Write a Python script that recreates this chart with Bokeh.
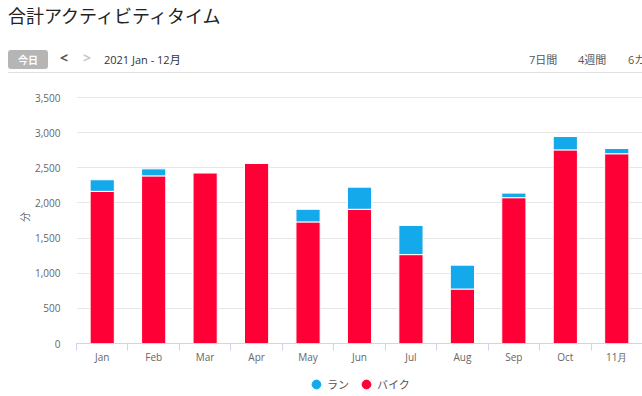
from bokeh.plotting import figure
from bokeh.layouts import column
from bokeh.models import (Range1d, LinearAxis, FixedTicker, NumeralTickFormatter,
                          Legend, LegendItem, ColumnDataSource, Div)
from bokeh.embed import file_html
from bokeh.resources import INLINE

# ---- data ----
months = ["Jan", "Feb", "Mar", "Apr", "May", "Jun", "Jul", "Aug", "Sep", "Oct", "11月"]
bike = [2165, 2385, 2430, 2565, 1730, 1910, 1265, 775, 2075, 2755, 2700]
run = [165, 100, 0, 0, 180, 315, 415, 340, 65, 190, 75]
series_names = ["ラン", "バイク"]
y_ticks = [0, 500, 1000, 1500, 2000, 2500, 3000, 3500]
title_text = "合計アクティビティタイム"
today_text = "今日"
range_text = "2021 Jan - 12月"
tabs = ["7日間", "4週間", "6カ月"]

C_BIKE = "#ff0036"
C_RUN = "#13a9eb"
LAT = "Open Sans"
JP = "Noto Sans CJK JP"
W = 642
H_HEAD = 80
H_MAIN = 288
H_FOOT = 396 - H_HEAD - H_MAIN

# ---------------- header (HTML) ----------------
def span(text, left, top, size, color, extra=""):
    return (f'<span style="position:absolute;left:{left}px;top:{top}px;'
            f'font-size:{size}px;line-height:{size + 4}px;color:{color};'
            f'white-space:nowrap;{extra}">{text}</span>')

tab_html = "".join(span(t, x, 52, 11, "#555555", f"font-family:'{LAT}','{JP}';")
                   for t, x in zip(tabs, [529, 578, 628]))
head_html = (
    f'<div style="position:relative;width:{W}px;height:{H_HEAD}px;overflow:hidden;'
    f'font-family:\'{LAT}\',\'{JP}\';">'
    + span(title_text, 8, 3, 18, "#222222", f"font-family:'{JP}';line-height:24px;")
    + f'<div style="position:absolute;left:8px;top:50px;width:40px;height:19px;'
      f'background:#b5b5b5;border-radius:3px;"></div>'
    + span(today_text, 18, 52, 10, "#ffffff",
           f"font-family:'{JP}';font-weight:bold;line-height:15px;")
    + span("&lt;", 60, 50, 14, "#555555", "font-weight:bold;line-height:16px;")
    + span("&gt;", 83, 50, 14, "#c8c8c8", "font-weight:bold;line-height:16px;")
    + span(range_text, 104, 52, 11, "#333333")
    + tab_html
    + f'<div style="position:absolute;left:8px;top:72px;width:{W - 8}px;height:1px;'
      f'background:#e0e0e0;"></div>'
    + '</div>'
)
head = Div(text=head_html, width=W, height=H_HEAD, margin=0)

# ---------------- main chart ----------------
idx = list(range(len(months)))
src = ColumnDataSource(dict(x=idx, bike=bike, run=run))

p = figure(width=W, height=H_MAIN, output_backend="svg", toolbar_location=None,
           x_range=Range1d(-0.5, len(months) - 0.5), y_range=Range1d(0, 3600),
           x_axis_type=None, min_border_left=76, min_border_right=0,
           min_border_top=10, min_border_bottom=25)
p.outline_line_color = None
p.xgrid.visible = False
p.ygrid.ticker = FixedTicker(ticks=y_ticks)
p.ygrid.grid_line_color = "#e6e6e6"

ya = p.yaxis[0]
ya.ticker = FixedTicker(ticks=y_ticks)
ya.formatter = NumeralTickFormatter(format="0,0")
ya.axis_line_color = None
ya.major_tick_line_color = None
ya.minor_tick_line_color = None
ya.major_label_standoff = 10
ya.major_label_text_font = LAT
ya.major_label_text_font_size = "10px"
ya.major_label_text_color = "#666666"
ya.axis_label = "分"
ya.axis_label_standoff = 0
ya.axis_label_text_font = JP
ya.axis_label_text_font_style = "normal"
ya.axis_label_text_font_size = "10px"
ya.axis_label_text_color = "#666666"

xa = LinearAxis(ticker=FixedTicker(ticks=idx,
                                   minor_ticks=[i - 0.5 for i in range(len(months) + 1)]),
                major_label_overrides={i: m for i, m in enumerate(months)},
                axis_line_color="#ccd6eb", major_tick_line_color=None,
                major_tick_out=0, major_tick_in=0,
                minor_tick_line_color="#ccd6eb", minor_tick_out=7, minor_tick_in=0,
                major_label_standoff=-1, major_label_text_font=LAT,
                major_label_text_font_size="10px", major_label_text_color="#666666")
p.add_layout(xa, "below")

p.vbar_stack(["bike", "run"], x="x", width=0.47, source=src,
             fill_color=[C_BIKE, C_RUN], line_color="white", line_width=1)

# ---------------- legend footer ----------------
foot = figure(width=W, height=H_FOOT, output_backend="svg", toolbar_location=None,
              x_range=Range1d(0, 1), y_range=Range1d(0, 1),
              x_axis_type=None, y_axis_type=None,
              min_border_left=76, min_border_right=0,
              min_border_top=0, min_border_bottom=0)
foot.outline_line_color = None
nan = float("nan")
r_run = foot.scatter(x=[nan], y=[nan], marker="circle", color=C_RUN)
r_bike = foot.scatter(x=[nan], y=[nan], marker="circle", color=C_BIKE)
legend = Legend(items=[LegendItem(label=series_names[0], renderers=[r_run]),
                       LegendItem(label=series_names[1], renderers=[r_bike])],
                orientation="horizontal", location=(229, 1),
                glyph_width=22, glyph_height=22, label_standoff=0, spacing=6,
                padding=0, margin=0, border_line_color=None,
                background_fill_alpha=0, label_text_font=JP,
                label_text_font_size="11px", label_text_color="#555555")
foot.add_layout(legend, "center")

layout = column(head, p, foot, spacing=0)
open("out.html", "w").write(file_html(layout, INLINE))
